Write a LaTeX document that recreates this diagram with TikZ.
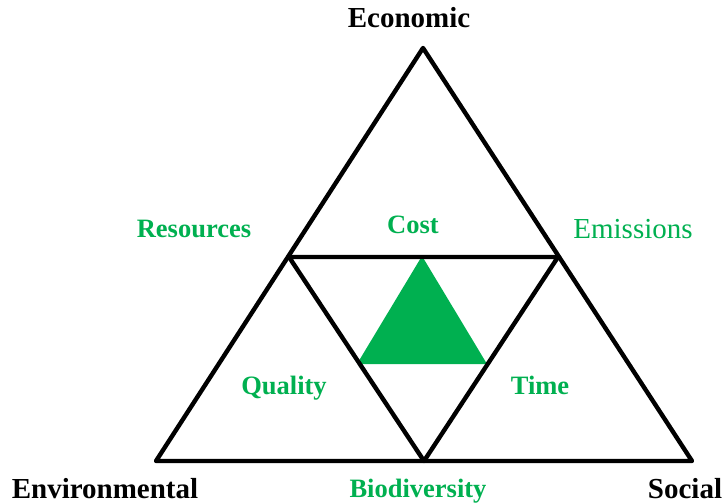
\documentclass[tikz,border=0pt]{standalone}
\usepackage{fontspec}
\setmainfont{Liberation Serif}
\definecolor{pmgreen}{HTML}{00B050}
\begin{document}
\begin{tikzpicture}[x=1pt,y=-1pt,
  edge/.style={line width=4.4pt,line join=round,line cap=round},
  blacklab/.style={anchor=base,inner sep=0pt,font=\fontsize{29}{31}\selectfont\bfseries},
  greenlab/.style={anchor=base,inner sep=0pt,text=pmgreen,font=\fontsize{26.5}{28}\selectfont\bfseries},
  greenreg/.style={anchor=base,inner sep=0pt,text=pmgreen,font=\fontsize{29}{31}\selectfont}]
\useasboundingbox (0,0) rectangle (723,503);
\coordinate (T) at (423,48);
\coordinate (L) at (156,461);
\coordinate (R) at (692,461);
\coordinate (ML) at (289,257);
\coordinate (MR) at (558,257);
\coordinate (MB) at (424,461);
\coordinate (GT) at (422,256);
\coordinate (GL) at (357,364);
\coordinate (GR) at (487,364);
\fill[pmgreen,line join=round] (GT) -- (GL) -- (GR) -- cycle;
\draw[edge] (T) -- (L) -- (R) -- cycle;
\draw[edge] (ML) -- (MR) -- (MB) -- cycle;
\node[blacklab] (eco) at (409,28) {Economic};
\node[blacklab] (env) at (105,498) {Environmental};
\node[blacklab] (soc) at (685,498) {Social};
\node[greenlab] (res) at (194,237) {Resources};
\node[greenlab] (cost) at (413,233) {Cost};
\node[greenreg] (emi) at (633,238) {Emissions};
\node[greenlab] (qua) at (284,394) {Quality};
\node[greenlab] (time) at (540,394) {Time};
\node[greenlab] (bio) at (418,497) {Biodiversity};
\end{tikzpicture}
\end{document}
